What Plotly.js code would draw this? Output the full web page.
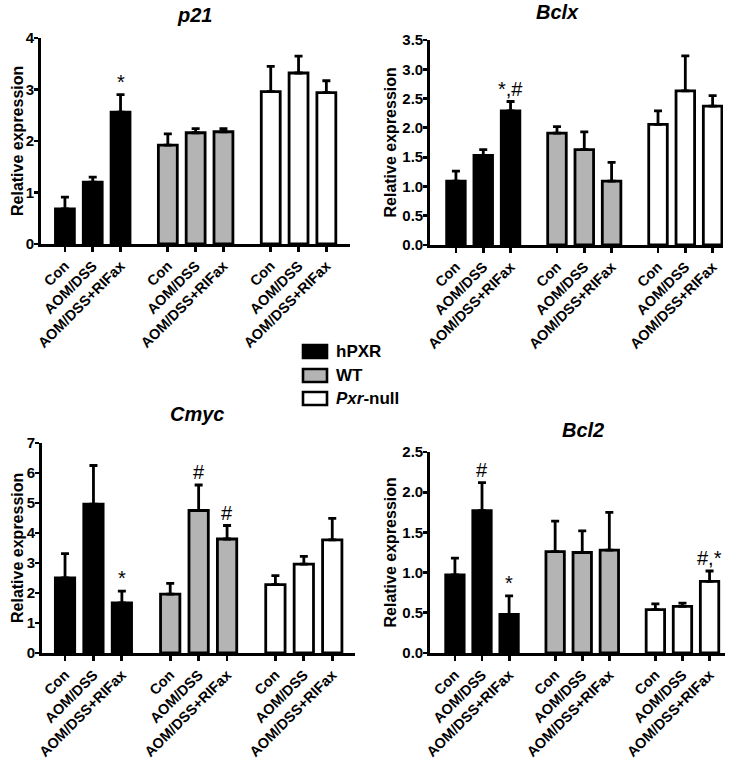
<!DOCTYPE html>
<html>
<head>
<meta charset="utf-8">
<script src="https://cdn.plot.ly/plotly-3.0.1.min.js"></script>
<style>
  html, body { margin: 0; padding: 0; background: #ffffff; }
  #chart { width: 740px; height: 762px; }
</style>
</head>
<body>
<div id="chart"></div>
<script>
// ---------- DATA ----------
const genotypes = ["hPXR", "WT", "Pxr-null"];
const genotypeLabels = ["hPXR", "WT", "<i>Pxr</i>-null"];
const treatments = ["Con", "AOM/DSS", "AOM/DSS+RIFax"];
const genes = ["p21", "Bclx", "Cmyc", "Bcl2"];
const yTitle = "Relative expression";

// values ordered: hPXR (Con, AOM/DSS, +RIFax), WT (...), Pxr-null (...)
const p21Mean  = [0.68, 1.20, 2.56,  1.92, 2.16, 2.18,  2.96, 3.32, 2.94];
const p21Err   = [0.23, 0.10, 0.34,  0.22, 0.08, 0.06,  0.49, 0.33, 0.23];
const bclxMean = [1.09, 1.53, 2.29,  1.91, 1.63, 1.09,  2.06, 2.63, 2.37];
const bclxErr  = [0.17, 0.10, 0.16,  0.11, 0.30, 0.32,  0.23, 0.60, 0.18];
const cmycMean = [2.50, 4.96, 1.67,  1.96, 4.75, 3.80,  2.28, 2.96, 3.77];
const cmycErr  = [0.81, 1.29, 0.39,  0.36, 0.85, 0.45,  0.30, 0.26, 0.72];
const bcl2Mean = [0.97, 1.77, 0.48,  1.26, 1.25, 1.28,  0.54, 0.58, 0.89];
const bcl2Err  = [0.21, 0.35, 0.23,  0.38, 0.27, 0.47,  0.07, 0.04, 0.13];

// significance marks
const p21Sig  = ["", "", "*",    "", "", "",   "", "", ""];
const bclxSig = ["", "", "*,#",  "", "", "",   "", "", ""];
const cmycSig = ["", "", "*",    "", "#", "#", "", "", ""];
const bcl2Sig = ["", "#", "*",   "", "", "",   "", "", "#,*"];

// y-axis tick settings per panel
const yMax   = [4, 3.5, 7, 2.5];
const yDtick = [1, 0.5, 1, 0.5];
const yFmt   = ["d", ".1f", "d", ".1f"];

// ---------- STYLE ----------
const fills = ["#000000", "#b4b4b4", "#ffffff"];
const FONT = "Arial, 'Liberation Sans', Helvetica, sans-serif";
const W = 740, H = 762;
const groupStep = 3.7;
const barWidth = 0.68;

const means = [p21Mean, bclxMean, cmycMean, bcl2Mean];
const errs  = [p21Err, bclxErr, cmycErr, bcl2Err];
const sigs  = [p21Sig, bclxSig, cmycSig, bcl2Sig];

// pixel layout of each panel: [xLeft, xRight, yBottom, yTop] in pixels
const panelPx = [
  [41, 350, 244, 38],
  [430, 723, 245, 40],
  [42, 355, 653, 443],
  [430, 725, 653, 452]
];
const xRanges = [[-0.86, 10.25], [-0.95, 9.78], [-0.81, 10.2], [-0.92, 9.97]];
const titlePos = [[195, 15], [557, 12], [197, 414], [583, 430]];
const yTitleX = [17, 390, 17, 390];

function pos(g, i) { return g * groupStep + i; }

const traces = [];
const layout = {
  width: W, height: H,
  margin: {l: 0, r: 0, t: 0, b: 0},
  paper_bgcolor: "#ffffff",
  plot_bgcolor: "rgba(0,0,0,0)",
  showlegend: false,
  barmode: "overlay",
  font: {family: FONT, color: "#000000"},
  annotations: [],
  shapes: []
};

const tickVals = [], tickText = [];
for (let g = 0; g < 3; g++) for (let i = 0; i < 3; i++) {
  tickVals.push(pos(g, i)); tickText.push(treatments[i]);
}

for (let p = 0; p < 4; p++) {
  const sfx = p === 0 ? "" : String(p + 1);
  const xa = "x" + sfx, ya = "y" + sfx;
  for (let g = 0; g < 3; g++) {
    const xs = [], ys = [], es = [], zs = [];
    for (let i = 0; i < 3; i++) {
      xs.push(pos(g, i));
      ys.push(means[p][g * 3 + i]);
      es.push(errs[p][g * 3 + i]);
      zs.push(0);
    }
    traces.push({
      type: "bar", x: xs, y: ys, name: genotypes[g], xaxis: xa, yaxis: ya,
      width: barWidth,
      marker: {color: fills[g], line: {color: "#000000", width: 2.8}},
      error_y: {type: "data", symmetric: false, array: es, arrayminus: zs,
                color: "#000000", thickness: 2.8, width: 4},
      hoverinfo: "skip"
    });
  }
  const px = panelPx[p];
  layout["xaxis" + sfx] = {
    domain: [px[0] / W, px[1] / W], anchor: ya, range: xRanges[p],
    tickmode: "array", tickvals: tickVals, ticktext: tickText, tickangle: -45,
    showline: true, linecolor: "#000000", linewidth: 2.8,
    ticks: "outside", ticklen: 5, tickwidth: 2.8, tickcolor: "#000000",
    tickfont: {family: FONT, size: 14.5, weight: 700, color: "#000000"},
    showgrid: false, zeroline: false, fixedrange: true
  };
  layout["yaxis" + sfx] = {
    domain: [1 - px[2] / H, 1 - px[3] / H], anchor: xa, range: [0, yMax[p]],
    tick0: 0, dtick: yDtick[p], tickformat: yFmt[p],
    showline: true, linecolor: "#000000", linewidth: 2.8,
    ticks: "outside", ticklen: 4, tickwidth: 2.8, tickcolor: "#000000",
    ticklabelstandoff: -3,
    tickfont: {family: FONT, size: 15, weight: 700, color: "#000000"},
    showgrid: false, zeroline: false, fixedrange: true
  };
  // y-axis title
  layout.annotations.push({
    xref: "paper", yref: "paper", x: yTitleX[p] / W,
    y: 1 - (px[2] + px[3]) / 2 / H,
    xanchor: "center", yanchor: "middle", textangle: -90, showarrow: false,
    text: "<b>" + yTitle + "</b>",
    font: {family: FONT, size: 16, color: "#000000"}
  });
  // panel title
  layout.annotations.push({
    xref: "paper", yref: "paper", x: titlePos[p][0] / W, y: 1 - titlePos[p][1] / H,
    xanchor: "center", yanchor: "middle", showarrow: false,
    text: "<b><i>" + genes[p] + "</i></b>",
    font: {family: FONT, size: 20, color: "#000000"}
  });
  // significance marks
  for (let k = 0; k < 9; k++) {
    if (!sigs[p][k]) continue;
    const g = Math.floor(k / 3), i = k % 3;
    layout.annotations.push({
      xref: xa, yref: ya, x: pos(g, i), y: means[p][k] + errs[p][k],
      xanchor: "center", yanchor: "bottom", showarrow: false, yshift: 0,
      text: sigs[p][k], font: {family: FONT, size: 20, color: "#000000"}
    });
  }
}

// legend (drawn manually)
const legBoxY = [[345, 358], [369, 382], [392, 405]];
for (let g = 0; g < 3; g++) {
  layout.shapes.push({
    type: "rect", xref: "paper", yref: "paper",
    x0: 303 / W, x1: 327 / W, y0: 1 - legBoxY[g][1] / H, y1: 1 - legBoxY[g][0] / H,
    fillcolor: fills[g], line: {color: "#000000", width: 2.6}
  });
  layout.annotations.push({
    xref: "paper", yref: "paper", x: 334 / W, y: 1 - (legBoxY[g][0] + legBoxY[g][1]) / 2 / H,
    xanchor: "left", yanchor: "middle", showarrow: false,
    text: "<b>" + genotypeLabels[g] + "</b>",
    font: {family: FONT, size: 17, color: "#000000"}
  });
}

Plotly.newPlot("chart", traces, layout, {staticPlot: true, displayModeBar: false});
</script>
</body>
</html>
